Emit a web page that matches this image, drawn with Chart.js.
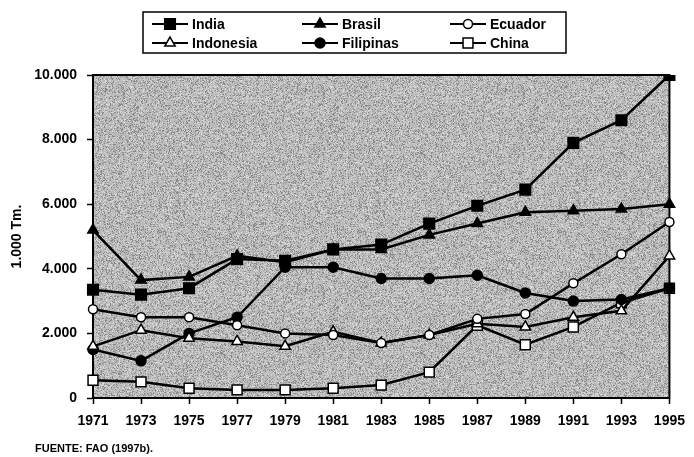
<!DOCTYPE html>
<html>
<head>
<meta charset="utf-8">
<script src="https://cdn.jsdelivr.net/npm/chart.js@4.4.0/dist/chart.umd.min.js"></script>
<style>
  html, body { margin: 0; padding: 0; background: #fff; }
  #wrap { position: relative; width: 694px; height: 457px; }
</style>
</head>
<body>
<div id="wrap"><canvas id="prodChart"></canvas></div>
<script>
// Years on the x axis
const years = ['1971', '1973', '1975', '1977', '1979', '1981', '1983', '1985', '1987', '1989', '1991', '1993', '1995'];

// Production, thousands of Tm
const india     = [3350, 3200, 3400, 4300, 4250, 4600, 4750, 5400, 5950, 6450, 7900, 8600, 10000];
const brasil    = [5200, 3650, 3750, 4400, 4200, 4600, 4600, 5050, 5400, 5750, 5800, 5850, 6000];
const ecuador   = [2750, 2500, 2500, 2250, 2000, 1950, 1700, 1950, 2450, 2600, 3550, 4450, 5450];
const indonesia = [1600, 2100, 1850, 1750, 1600, 2050, 1700, 1950, 2300, 2200, 2500, 2700, 4400];
const filipinas = [1500, 1150, 2000, 2500, 4050, 4050, 3700, 3700, 3800, 3250, 3000, 3050, 3400];
const china     = [550, 500, 300, 250, 250, 300, 400, 800, 2250, 1650, 2200, 2950, 3400];

const yTicks = [0, 2000, 4000, 6000, 8000, 10000];

const FONT = '"Liberation Sans", Arial, sans-serif';

function fmt(v) {
  return v.toLocaleString('de-DE');
}

function series(label, data, style, filled, radius) {
  return {
    label: label,
    data: data,
    borderColor: '#000',
    borderWidth: 2.5,
    pointStyle: style,
    pointRadius: radius,
    pointBorderWidth: 1.5,
    pointBorderColor: '#000',
    pointBackgroundColor: filled ? '#000' : '#fff',
    tension: 0,
  };
}

// integer hash for a fixed speckle texture
function hash(x, y) {
  let h = (x * 374761393 + y * 668265263) | 0;
  h = Math.imul(h ^ (h >>> 13), 1274126177);
  return (h ^ (h >>> 16)) >>> 0;
}

// Speckled grey like the scanned plot background
function makeSpeckle() {
  const c = document.createElement('canvas');
  c.width = 200; c.height = 200;
  const g = c.getContext('2d');
  g.fillStyle = '#b9b9b9';
  g.fillRect(0, 0, 200, 200);
  for (let y = 0; y < 200; y++) {
    for (let x = 0; x < 200; x++) {
      const k = hash(x, y) % 10;
      if (k < 2) { g.fillStyle = '#8a8a8a'; g.fillRect(x, y, 1, 1); }
      else if (k < 4) { g.fillStyle = '#d6d6d6'; g.fillRect(x, y, 1, 1); }
    }
  }
  return c;
}

const paperPlugin = {
  id: 'paper',
  beforeDraw(chart) {
    const { ctx, chartArea: a } = chart;
    ctx.save();
    ctx.fillStyle = '#fff';
    ctx.fillRect(0, 0, chart.width, chart.height);
    ctx.fillStyle = ctx.createPattern(makeSpeckle(), 'repeat');
    ctx.fillRect(a.left, a.top, a.right - a.left, a.bottom - a.top);
    ctx.strokeStyle = '#000';
    ctx.lineWidth = 2;
    ctx.strokeRect(a.left, a.top, a.right - a.left, a.bottom - a.top);
    ctx.restore();
  },
  afterDraw(chart) {
    const ctx = chart.ctx;
    ctx.save();

    // legend box
    ctx.strokeStyle = '#000';
    ctx.lineWidth = 1.5;
    ctx.strokeRect(143, 12, 423, 41);

    const cols = [152, 302, 450];
    const rows = [24, 43];
    ctx.font = 'bold 14px ' + FONT;
    ctx.textBaseline = 'middle';
    chart.data.datasets.forEach((ds, i) => {
      const x = cols[i % 3];
      const y = rows[Math.floor(i / 3)];
      ctx.beginPath();
      ctx.moveTo(x, y);
      ctx.lineTo(x + 36, y);
      ctx.lineWidth = 2;
      ctx.strokeStyle = '#000';
      ctx.stroke();
      ctx.fillStyle = ds.pointBackgroundColor;
      ctx.lineWidth = 1.5;
      Chart.helpers.drawPoint(ctx, {
        pointStyle: ds.pointStyle,
        radius: ds.pointRadius,
        borderWidth: 1.5,
        rotation: 0,
      }, x + 18, y);
      ctx.fillStyle = '#000';
      ctx.fillText(ds.label, x + 40, y + 1);
    });

    // source note
    ctx.font = 'bold 11px ' + FONT;
    ctx.textBaseline = 'alphabetic';
    ctx.fillText('FUENTE: FAO (1997b).', 35, 452);
    ctx.restore();
  },
};

const ctx = document.getElementById('prodChart').getContext('2d');

const prodChart = new Chart(ctx, {
  type: 'line',
  data: {
    labels: years,
    datasets: [
      series('India', india, 'rect', true, 7.5),
      series('Brasil', brasil, 'triangle', true, 6),
      series('Ecuador', ecuador, 'circle', false, 4.5),
      series('Indonesia', indonesia, 'triangle', false, 6),
      series('Filipinas', filipinas, 'circle', true, 5),
      series('China', china, 'rect', false, 7),
    ],
  },
  options: {
    responsive: true,
    maintainAspectRatio: false,
    animation: false,
    layout: {
      padding: { left: 0, right: 19, top: 75, bottom: 0 },
    },
    plugins: {
      legend: { display: false },
      tooltip: { enabled: false },
    },
    scales: {
      x: {
        type: 'category',
        offset: false,
        afterFit(scale) { scale.height = 59; },
        grid: {
          drawOnChartArea: false,
          drawTicks: true,
          tickLength: 6,
          tickWidth: 1.5,
          tickColor: '#000',
        },
        border: { display: true, color: '#000', width: 2 },
        ticks: {
          color: '#000',
          padding: 9,
          maxRotation: 0,
          autoSkip: false,
          font: { family: FONT, size: 14, weight: 'bold' },
        },
      },
      y: {
        min: 0,
        max: 10000,
        afterFit(scale) { scale.width = 93; },
        afterBuildTicks(scale) {
          scale.ticks = yTicks.map(v => ({ value: v }));
        },
        grid: {
          drawOnChartArea: false,
          drawTicks: true,
          tickLength: 6,
          tickWidth: 1.5,
          tickColor: '#000',
        },
        border: { display: true, color: '#000', width: 2 },
        ticks: {
          color: '#000',
          padding: 10,
          callback: (v) => fmt(v),
          font: { family: FONT, size: 14, weight: 'bold' },
        },
        title: {
          display: true,
          text: '1.000 Tm.',
          color: '#000',
          padding: { top: 9, bottom: 0 },
          font: { family: FONT, size: 14, weight: 'bold' },
        },
      },
    },
  },
  plugins: [paperPlugin],
});
</script>
</body>
</html>
